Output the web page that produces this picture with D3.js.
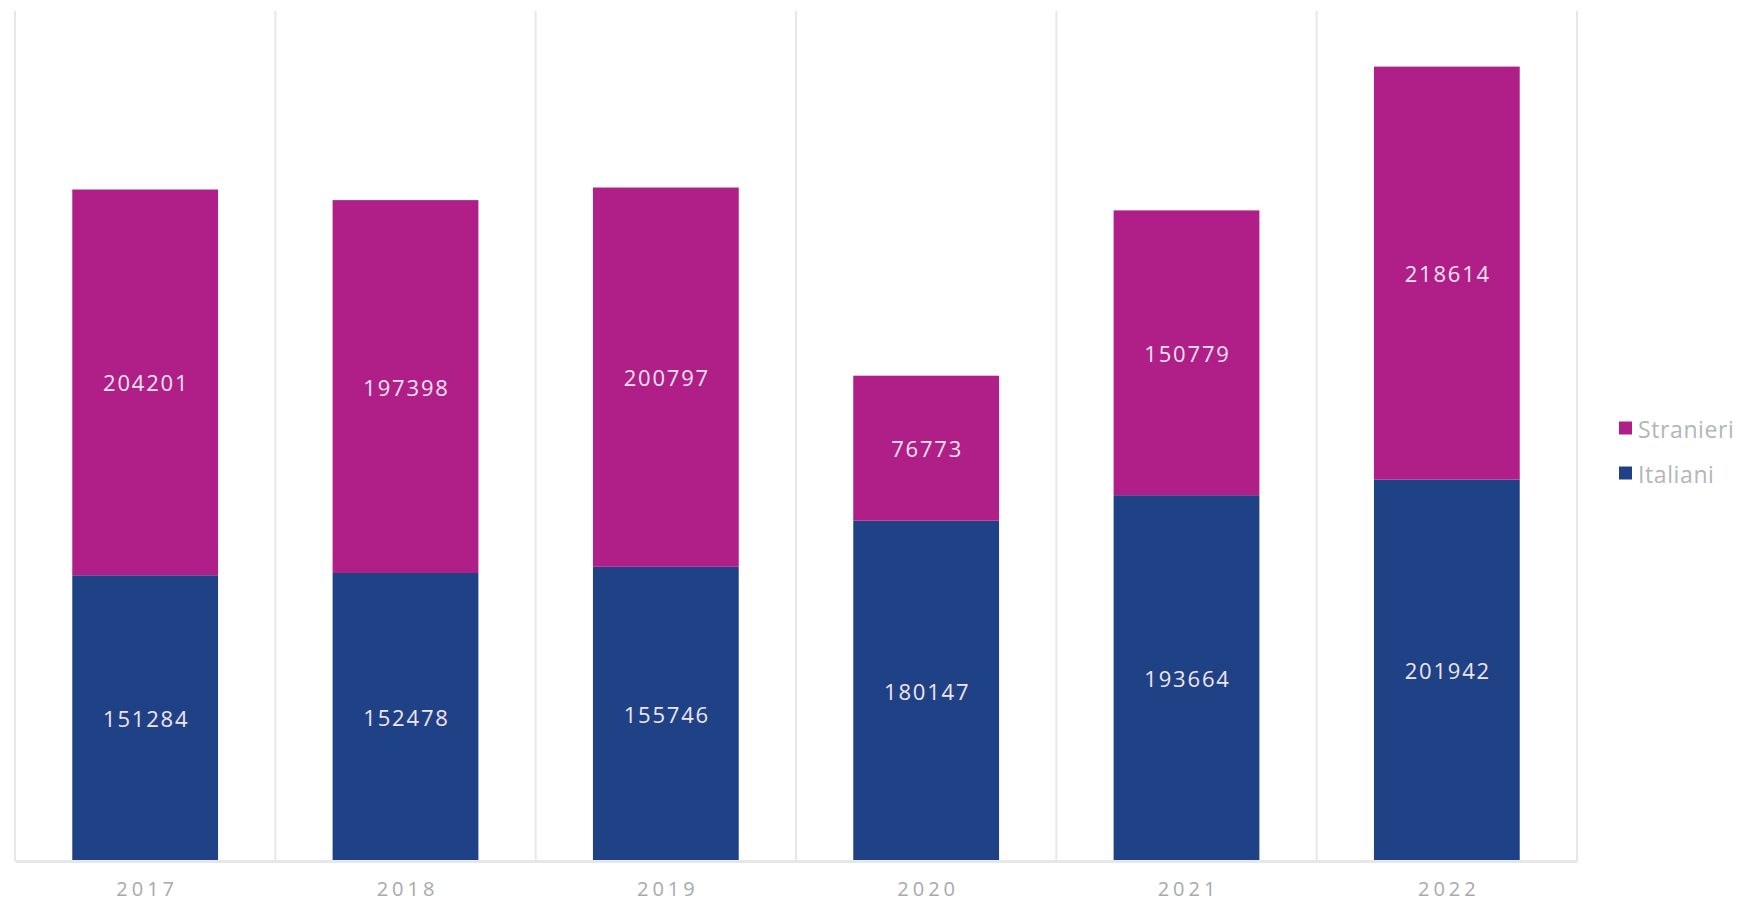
<!DOCTYPE html>
<html>
<head>
<meta charset="utf-8">
<script src="https://cdn.jsdelivr.net/npm/d3@7"></script>
<style>
html,body{margin:0;padding:0;background:#fff;}
svg{display:block;}
text{font-family:"Open Sans",Lato,sans-serif;}
</style>
</head>
<body>
<svg id="chart" width="1742" height="901"></svg>
<script>
const years = ["2017","2018","2019","2020","2021","2022"];
const italiani = [151284,152478,155746,180147,193664,201942];
const stranieri = [204201,197398,200797,76773,150779,218614];
const seriesNames = ["Italiani","Stranieri"];
const seriesColors = ["#1F4287","#B01F88"];
const legendOrder = ["Stranieri","Italiani"];

const svg = d3.select("#chart");
const margin = {left:15, right:165, top:11, bottom:40};
const W = 1742, H = 901;
const x = d3.scaleBand().domain(years).range([margin.left, W - margin.right]).paddingInner(0).paddingOuter(0);
const y = d3.scaleLinear().domain([0,450000]).range([H - margin.bottom, margin.top]);
const color = d3.scaleOrdinal().domain(seriesNames).range(seriesColors);

const table = years.map((yr,i)=>({year:yr, Italiani:italiani[i], Stranieri:stranieri[i]}));
const stacked = d3.stack().keys(seriesNames)(table);

// vertical grid lines (category separators)
const gridX = years.map(d=>x(d)).concat([x.range()[1]]);
svg.append("g").selectAll("line").data(gridX).join("line")
  .attr("x1",d=>d).attr("x2",d=>d)
  .attr("y1",margin.top).attr("y2",y(0))
  .attr("stroke","#e6e7e8").attr("stroke-width",2);

// bars
const barW = x.bandwidth()*0.56;
const off = (x.bandwidth()-barW)/2;
const layers = svg.append("g").selectAll("g").data(stacked).join("g")
  .attr("fill",d=>color(d.key));
layers.selectAll("rect").data(d=>d).join("rect")
  .attr("x",d=>x(d.data.year)+off)
  .attr("width",barW)
  .attr("y",d=>y(d[1]))
  .attr("height",d=>y(d[0])-y(d[1]));

// value labels
layers.selectAll("text").data(d=>d.map(v=>Object.assign({key:d.key},{v}))).join("text")
  .attr("x",d=>x(d.v.data.year)+x.bandwidth()/2+1)
  .attr("y",d=>(y(d.v[0])+y(d.v[1]))/2)
  .attr("text-anchor","middle")
  .attr("dominant-baseline","central")
  .attr("fill","#f1e4ee")
  .attr("font-size",22)
  .attr("letter-spacing",1.8)
  .text(d=>d.v.data[d.key]);

// x axis
const xAxis = svg.append("g").attr("transform",`translate(0,${y(0)})`)
  .call(d3.axisBottom(x).tickSize(0).tickPadding(21));
xAxis.select(".domain").attr("stroke","#e6e7e8").attr("stroke-width",3);
xAxis.selectAll("text").attr("font-size",20).attr("fill","#a7a9ac")
  .attr("letter-spacing",4).attr("dx",2).attr("font-family","'Open Sans',sans-serif");

// legend
const lg = svg.append("g").attr("transform","translate(1619,428)");
const li = lg.selectAll("g").data(legendOrder).join("g")
  .attr("transform",(d,i)=>`translate(0,${i*45})`);
li.append("rect").attr("x",0).attr("y",-6.5).attr("width",13).attr("height",13).attr("fill",d=>color(d));
li.append("text").attr("x",19).attr("y",1).attr("dominant-baseline","central")
  .attr("font-size",23).attr("letter-spacing",0.6).attr("fill","#b3b6b9").text(d=>d);
</script>
</body>
</html>
